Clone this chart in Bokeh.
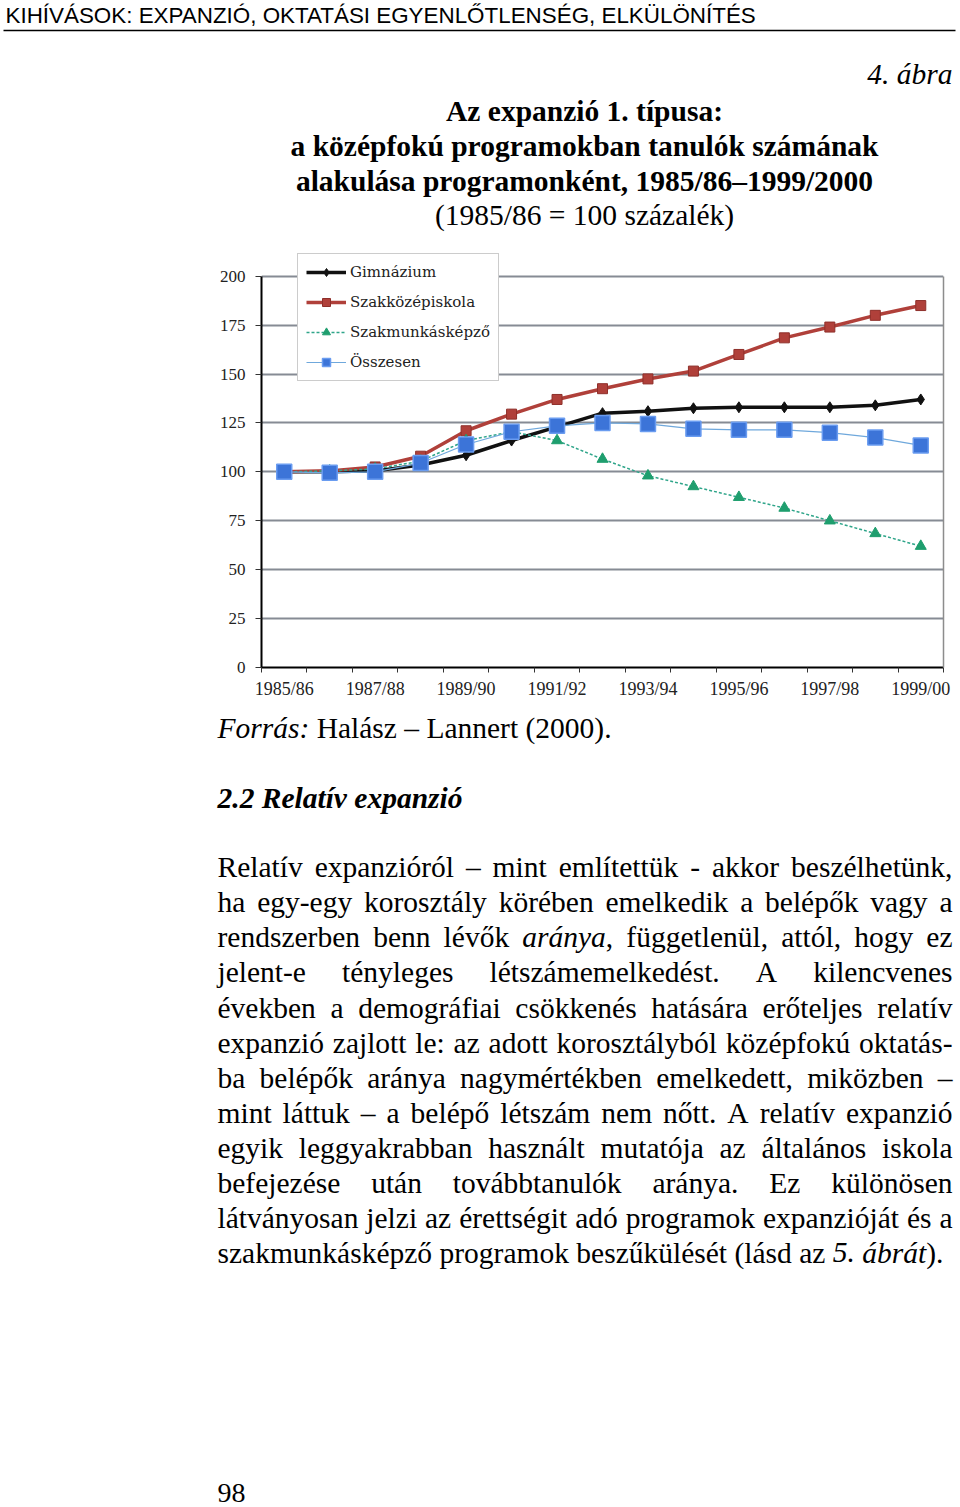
from bokeh.plotting import figure
from bokeh.models import Range1d, FixedTicker, Label, BoxAnnotation, LinearAxis
from bokeh.embed import file_html
from bokeh.resources import INLINE

# ---------------- data ----------------
years = ["1985/86", "1986/87", "1987/88", "1988/89", "1989/90", "1990/91", "1991/92",
         "1992/93", "1993/94", "1994/95", "1995/96", "1996/97", "1997/98", "1998/99", "1999/00"]
gimnazium = [100, 100, 100.5, 103.5, 108.5, 116, 123, 130, 131, 132.5, 133, 133, 133, 134, 137]
szakkozep = [100, 100.5, 102.5, 108, 121, 129.5, 137, 142.5, 147.5, 151.5, 160, 168.5, 174, 180, 185]
szakmunkas = [100, 100.5, 101.5, 105.5, 116, 120.5, 116, 106.5, 98, 92.5, 87, 81.5, 75, 68.5, 62]
osszesen = [100, 99.5, 100, 104.5, 114, 120.5, 123.5, 125, 124.5, 122, 121.5, 121.5, 120, 117.5, 113.5]
series_names = ["Gimnázium", "Szakközépiskola", "Szakmunkásképző", "Összesen"]
y_ticks = [0, 25, 50, 75, 100, 125, 150, 175, 200]
y_max = 200

header = "KIHÍVÁSOK: EXPANZIÓ, OKTATÁSI EGYENLŐTLENSÉG, ELKÜLÖNÍTÉS"
fig_no = "4. ábra"
title_lines = ["Az expanzió 1. típusa:",
               "a középfokú programokban tanulók számának",
               "alakulása programonként, 1985/86–1999/2000"]
subtitle = "(1985/86 = 100 százalék)"
source_it = "Forrás:"
source_rest = "Halász – Lannert (2000)."
section = "2.2 Relatív expanzió"
paragraph = [
    "Relatív expanzióról – mint említettük - akkor beszélhetünk,",
    "ha egy-egy korosztály körében emelkedik a belépők vagy a",
    "rendszerben benn lévők *aránya*, függetlenül, attól, hogy ez",
    "jelent-e tényleges létszámemelkedést. A kilencvenes",
    "években a demográfiai csökkenés hatására erőteljes relatív",
    "expanzió zajlott le: az adott korosztályból középfokú oktatás-",
    "ba belépők aránya nagymértékben emelkedett, miközben –",
    "mint láttuk – a belépő létszám nem nőtt. A relatív expanzió",
    "egyik leggyakrabban használt mutatója az általános iskola",
    "befejezése után továbbtanulók aránya. Ez különösen",
    "látványosan jelzi az érettségit adó programok expanzióját és a",
    "szakmunkásképző programok beszűkülését (lásd az *5. ábrát*).",
]
page_no = "98"

# ---------------- layout geometry (pixels) ----------------
W = 960
HEAD_H = 250
CHART_H = 460
BODY_H = 1507 - HEAD_H - CHART_H
FRAME_TOP = 250
FRAME_BOTTOM = 667
Y200_PX = 275.7
frame_h = FRAME_BOTTOM - FRAME_TOP
y_end = y_max * frame_h / (FRAME_BOTTOM - Y200_PX)


def text_fig(height, top):
    f = figure(width=W, height=height, output_backend="svg", toolbar_location=None,
               x_range=Range1d(0, W), y_range=Range1d(top + height, top),
               x_axis_location=None, y_axis_location=None, min_border=0)
    f.outline_line_color = None
    f.grid.visible = False
    f.background_fill_color = "white"
    f.border_fill_color = "white"
    return f


def add_text(f, x, y, text, size, style="normal", font="Liberation Serif", align="left"):
    # y is the wanted baseline; the rendered baseline sits ~0.345 em lower
    f.add_layout(Label(x=x, y=y - 0.345 * size, text=text, text_font=font,
                       text_font_size=f"{size}px", text_font_style=style, text_align=align,
                       text_baseline="alphabetic", text_color="black"))


# ---------------- head ----------------
head = text_fig(HEAD_H, 0)
BODY = 29.5
add_text(head, 5, 23, header, 22.4, font="Liberation Sans")
head.add_layout(BoxAnnotation(left=3, right=955, top=29.2, bottom=30.8,
                              fill_color="black", fill_alpha=1, line_color=None))
add_text(head, 952, 84, fig_no, BODY, style="italic", align="right")
for i, t in enumerate(title_lines):
    add_text(head, 584, 121 + 35 * i, t, BODY, style="bold", align="center")
add_text(head, 584, 225, subtitle, BODY, align="center")

# ---------------- chart ----------------
x_idx = list(range(len(years)))
p = figure(width=W, height=CHART_H, output_backend="svg", toolbar_location=None,
           x_range=Range1d(-0.5, len(years) - 0.5), y_range=Range1d(0, y_end),
           min_border_left=261, min_border_right=17, min_border_top=0,
           min_border_bottom=CHART_H - frame_h)
p.background_fill_color = "white"
p.border_fill_color = "white"
p.outline_line_color = None

p.yaxis.ticker = FixedTicker(ticks=y_ticks, minor_ticks=[])
p.yaxis.bounds = (0, y_max)
p.yaxis.axis_line_color = "black"
p.yaxis.axis_line_width = 2
p.yaxis.major_tick_out = 6
p.yaxis.major_tick_in = 0
p.yaxis.major_tick_line_color = "#333333"
p.yaxis.major_label_standoff = 10
p.yaxis.major_label_text_font = "Liberation Serif"
p.yaxis.major_label_text_font_size = "17px"
p.yaxis.major_label_text_color = "#222222"

right_axis = LinearAxis(bounds=(0, y_max), ticker=FixedTicker(ticks=[], minor_ticks=[]),
                        axis_line_color="#8d8d8d", axis_line_width=1.5,
                        major_tick_line_color=None, minor_tick_line_color=None,
                        major_label_text_font_size="0px")
p.add_layout(right_axis, "right")

p.xaxis.ticker = FixedTicker(ticks=[i for i in x_idx if i % 2 == 0],
                             minor_ticks=[i - 0.5 for i in range(len(years) + 1)])
p.xaxis.major_label_overrides = {i: years[i] for i in x_idx if i % 2 == 0}
p.xaxis.axis_line_color = "black"
p.xaxis.axis_line_width = 2
p.xaxis.major_tick_line_color = None
p.xaxis.major_tick_out = 0
p.xaxis.major_tick_in = 0
p.xaxis.minor_tick_out = 5
p.xaxis.minor_tick_in = 0
p.xaxis.minor_tick_line_color = "#333333"
p.xaxis.major_label_standoff = 6
p.xaxis.major_label_text_font = "Liberation Serif"
p.xaxis.major_label_text_font_size = "18px"
p.xaxis.major_label_text_color = "#222222"

p.xgrid.visible = False
p.ygrid.ticker = FixedTicker(ticks=y_ticks, minor_ticks=[])
p.ygrid.grid_line_color = "#868b94"
p.ygrid.grid_line_width = 2

p.line(x_idx, gimnazium, line_color="#111111", line_width=3.5, legend_label=series_names[0])
p.scatter(x_idx, gimnazium, marker="diamond", size=11, fill_color="#111111",
          line_color="#111111", legend_label=series_names[0])

p.line(x_idx, szakkozep, line_color="#b0403a", line_width=3.5, legend_label=series_names[1])
p.scatter(x_idx, szakkozep, marker="square", size=10, fill_color="#b0403a",
          line_color="#8e2f2a", line_width=1, legend_label=series_names[1])

p.line(x_idx, szakmunkas, line_color="#2fa58a", line_width=1.5, line_dash="3 2",
       legend_label=series_names[2])
p.scatter(x_idx, szakmunkas, marker="triangle", size=11, fill_color="#1f9e6e",
          line_color="#1f9e6e", legend_label=series_names[2])

p.line(x_idx, osszesen, line_color="#6fa8dc", line_width=1.2, legend_label=series_names[3])
p.scatter(x_idx, osszesen, marker="square", size=15, fill_color="#3c74d8",
          line_color="#6a9cf0", line_width=1.5, legend_label=series_names[3])

lg = p.legend[0]
lg.location = (36, 286)
lg.border_line_color = "#9a9a9a"
lg.border_line_width = 1.5
lg.background_fill_color = "white"
lg.background_fill_alpha = 1
lg.label_text_font = "DejaVu Serif"
lg.label_text_font_size = "15px"
lg.label_text_color = "#222222"
lg.glyph_width = 40
lg.glyph_height = 20
lg.label_height = 20
lg.label_standoff = 4
lg.spacing = 10
lg.padding = 8
lg.margin = 0

# ---------------- body text ----------------
REG = {' ': 250, '!': 333, '(': 333, ')': 333, ',': 250, '-': 333, '.': 250, '/': 278,
       ':': 278, ';': 278, '=': 564, '–': 500,
       'A': 722, 'B': 667, 'C': 667, 'D': 722, 'E': 611, 'F': 556, 'G': 722, 'H': 722,
       'I': 333, 'J': 389, 'K': 722, 'L': 611, 'M': 889, 'N': 722, 'O': 722, 'P': 556,
       'Q': 722, 'R': 667, 'S': 556, 'T': 611, 'U': 722, 'V': 722, 'W': 944, 'X': 722,
       'Y': 722, 'Z': 611,
       'a': 444, 'b': 500, 'c': 444, 'd': 500, 'e': 444, 'f': 333, 'g': 500, 'h': 500,
       'i': 278, 'j': 278, 'k': 500, 'l': 278, 'm': 778, 'n': 500, 'o': 500, 'p': 500,
       'q': 500, 'r': 333, 's': 389, 't': 278, 'u': 500, 'v': 500, 'w': 722, 'x': 500,
       'y': 500, 'z': 444}
ITA = dict(REG)
ITA.update({'F': 611, ':': 333, 'a': 500, 'f': 278, 'k': 444, 'm': 722, 'r': 389,
            'v': 444, 'y': 444, 'z': 389})
BASE = {'á': 'a', 'é': 'e', 'í': 'i', 'ó': 'o', 'ö': 'o', 'ő': 'o', 'ú': 'u', 'ü': 'u',
        'ű': 'u', 'Á': 'A', 'É': 'E', 'Í': 'I', 'Ó': 'O', 'Ö': 'O', 'Ő': 'O', 'Ú': 'U',
        'Ü': 'U', 'Ű': 'U'}


def tw(s, italic, size):
    tab = ITA if italic else REG
    return sum(tab.get(BASE.get(c, c), 500) for c in s) * size / 1000.0


def line_words(line):
    words, italic = [], False
    for w in line.split(" "):
        segs, buf = [], ""
        for ch in w:
            if ch == "*":
                if buf:
                    segs.append((buf, italic))
                    buf = ""
                italic = not italic
            else:
                buf += ch
        if buf:
            segs.append((buf, italic))
        words.append(segs)
    return words


body = text_fig(BODY_H, HEAD_H + CHART_H)
add_text(body, 217, 738, source_it, BODY, style="italic")
add_text(body, 217 + tw(source_it, True, BODY) + tw(" ", False, BODY), 738, source_rest, BODY)
add_text(body, 217, 808, section, BODY, style="bold italic")

X0, X1 = 217, 952
for li, line in enumerate(paragraph):
    y = 877 + 35.05 * li
    words = line_words(line)
    widths = [sum(tw(s, it, BODY) for s, it in w) for w in words]
    if li == len(paragraph) - 1:
        gap = tw(" ", False, BODY)
    else:
        gap = (X1 - X0 - sum(widths)) / (len(words) - 1)
    x = X0
    for w in words:
        for s, it in w:
            add_text(body, x, y, s, BODY, style="italic" if it else "normal")
            x += tw(s, it, BODY)
        x += gap

add_text(body, 217, 1502, page_no, 28)

# separate roots: no frame alignment between the three blocks
open("out.html", "w").write(file_html([head, p, body], INLINE))
